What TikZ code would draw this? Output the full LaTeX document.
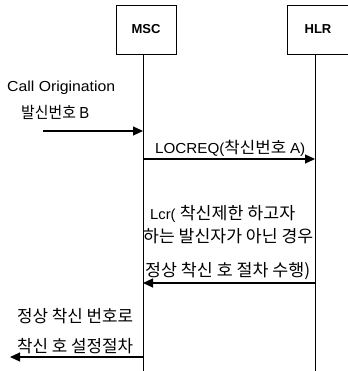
\documentclass[tikz,border=0pt]{standalone}
\usepackage{fontspec}
\usepackage{graphicx}
\setmainfont{Liberation Sans}
\newfontfamily\kr{Noto Sans CJK KR}
\usetikzlibrary{arrows.meta}
\newcommand{\fitw}[2]{\resizebox{#1pt}{\height}{#2}}
\begin{document}
\begin{tikzpicture}[x=1pt,y=-1pt,
  ent/.style={draw,line width=0.9pt,minimum width=60pt,minimum height=49pt,inner sep=0pt,font=\fontsize{13}{15}\selectfont\bfseries},
  life/.style={line width=0.8pt},
  msg/.style={line width=1.1pt,-{Triangle[length=10pt,width=9pt]}},
  lbl/.style={inner sep=0pt,anchor=west,font=\fontsize{17}{19}\selectfont}]
\useasboundingbox (0,0) rectangle (347,371);
\node[ent] (msc) at (146,29.5) {MSC};
\node[ent,minimum width=62pt] (hlr) at (318,29.5) {HLR};
\coordinate (mscEnd) at (143,371);
\coordinate (hlrEnd) at (315,371);
\coordinate (mscTop) at (143,54);
\coordinate (hlrTop) at (315,54);
\draw[life] (mscTop) -- (mscEnd);
\draw[life] (hlrTop) -- (hlrEnd);
% labels
\node[lbl] (t1) at (7,88) {\fitw{108}{\fontsize{14.5}{16}\selectfont Call Origination}};
\node[lbl] (t2) at (21,112) {\fitw{68}{\fontsize{16}{18}\selectfont\kr 발신번호 {\rmfamily B}}};
\node[lbl] (t3) at (155,148) {\fitw{150}{\fontsize{14.5}{16}\selectfont LOCREQ({\fontsize{16}{18}\selectfont\kr 착신번호 }A)}};
\node[lbl] (t4) at (150,214) {\fitw{145}{\fontsize{14.5}{16}\selectfont Lcr( {\fontsize{17}{19}\selectfont\kr 착신제한 하고자}}};
\node[lbl] (t5) at (143,236) {\fitw{170}{\kr 하는 발신자가 아닌 경우}};
\node[lbl] (t6) at (145,271) {\fitw{165}{\kr 정상 착신 호 절차 수행)}};
\node[lbl] (t7) at (17,316) {\fitw{116}{\kr 정상 착신 번호로}};
\node[lbl] (t8) at (17,346) {\fitw{116}{\kr 착신 호 설정절차}};
% messages
\coordinate (a1s) at (43,131);  \coordinate (a1e) at (143,131);
\coordinate (a2s) at (143,159); \coordinate (a2e) at (315,159);
\coordinate (a3s) at (315,283); \coordinate (a3e) at (143,283);
\coordinate (a4s) at (143,357); \coordinate (a4e) at (10,357);
\draw[msg] (a1s) -- (a1e);
\draw[msg] (a2s) -- (a2e);
\draw[msg] (a3s) -- (a3e);
\draw[msg] (a4s) -- (a4e);
\end{tikzpicture}
\end{document}
